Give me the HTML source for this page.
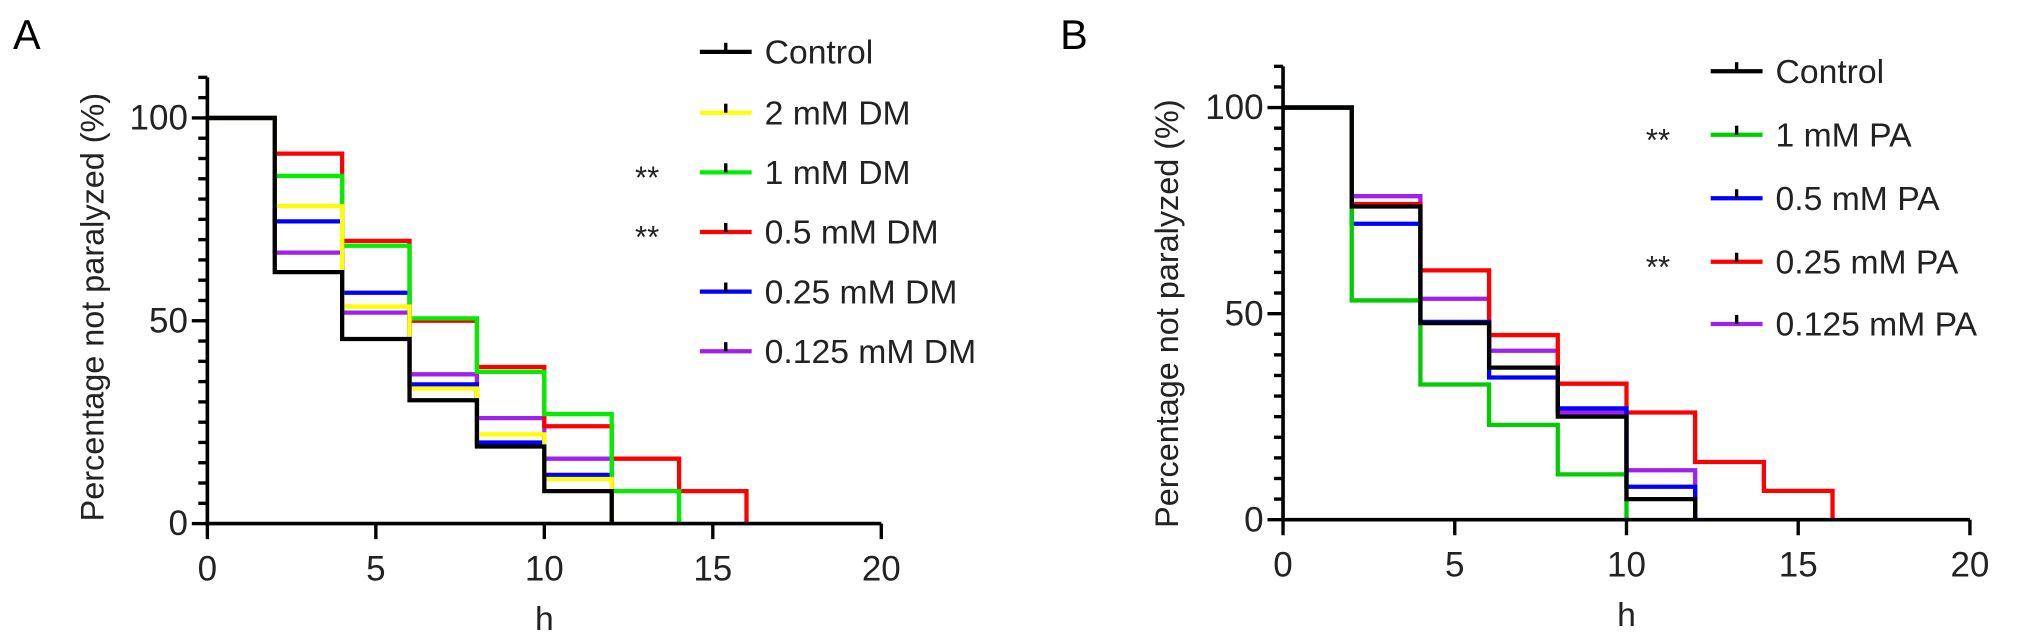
<!DOCTYPE html>
<html><head><meta charset="utf-8"><style>
html,body{margin:0;padding:0;background:#fff;}
svg{display:block;font-family:"Liberation Sans",Arial,sans-serif;}
</style></head><body>
<svg id="fig" width="2032" height="643" viewBox="0 0 2032 643" xmlns="http://www.w3.org/2000/svg">
<g transform="scale(1.296)">
<g id="panelA"></g>
<g id="panelB"></g>
</g>
</svg>
<script>
// Panel A data
const timesA = [0,2,4,6,8,10,12,14,16];
const namesA = ["Control","2 mM DM","1 mM DM","0.5 mM DM","0.25 mM DM","0.125 mM DM"];
const colorsA = ["#000000","#ffff00","#00ee00","#ff0000","#0000ff","#a020f0"];
const sigA = ["","","**","**","",""];
const controlA = [100,62,45.5,30.4,19,8,0];
const dm2A = [100,78.3,53.5,33.3,22,11,0];
const dm1A = [100,85.7,68.5,50.6,37.4,27,8,0];
const dm05A = [100,91.2,69.7,50,38.6,24,16,8,0];
const dm025A = [100,74.5,56.9,34.3,20,12,0];
const dm0125A = [100,66.8,52,36.8,26,16,0];
const seriesA = [controlA,dm2A,dm1A,dm05A,dm025A,dm0125A];
// Panel B data
const timesB = [0,2,4,6,8,10,12,14,16];
const namesB = ["Control","1 mM PA","0.5 mM PA","0.25 mM PA","0.125 mM PA"];
const colorsB = ["#000000","#00cc00","#0000ff","#ff0000","#a020f0"];
const sigB = ["","**","","**",""];
const controlB = [100,76,47.7,36.9,25,5,0];
const pa1B = [100,53.2,32.8,23,11,0];
const pa05B = [100,71.8,48,34.5,27,8,0];
const pa025B = [100,76.6,60.5,44.8,33,26,14,7,0];
const pa0125B = [100,78.5,53.6,41,26,12,0];
const seriesB = [controlB,pa1B,pa05B,pa025B,pa0125B];
const xTicks = [0,5,10,15,20];
const yTicks = [0,50,100];

const NS="http://www.w3.org/2000/svg";
function mk(tag, attrs, parent){const e=document.createElementNS(NS,tag);for(const k in attrs)e.setAttribute(k,attrs[k]);parent.appendChild(e);return e;}

function panel(g, cfg){
  const xs=v=>cfg.x0+(v/20)*(cfg.x1-cfg.x0);
  const ys=v=>cfg.y0-(v/100)*(cfg.y0-cfg.y100);
  const drawOrder=[];
  for(let i=cfg.series.length-1;i>=0;i--)drawOrder.push(i);
  drawOrder.forEach(i=>{
    const s=cfg.series[i];
    let d="M"+xs(cfg.times[0])+","+ys(s[0]);
    for(let k=1;k<s.length;k++){d+=" H"+xs(cfg.times[k])+" V"+ys(s[k]);}
    const p=mk("path",{d:d,fill:"none",stroke:cfg.colors[i],"stroke-width":3.3},g);
    
    
  });
  const ax=mk("path",{d:`M${cfg.x0},${ys(110)} V${cfg.y0} H${cfg.x1}`,fill:"none",stroke:"#000","stroke-width":2.8},g);
  
  
  for(let v=0;v<=110;v+=5){
    const major=v%50===0;
    const t=mk("line",{x1:cfg.x0-(major?12:7),x2:cfg.x0,y1:ys(v),y2:ys(v),stroke:"#000","stroke-width":2.6},g);
    
    
  }
  yTicks.forEach(v=>{
    const t=mk("text",{x:cfg.x0-15,y:ys(v)+9,"text-anchor":"end","font-size":27,fill:"#222"},g);
    t.textContent=v;
    
    
  });
  xTicks.forEach(v=>{
    const l=mk("line",{x1:xs(v),x2:xs(v),y1:cfg.y0,y2:cfg.y0+12,stroke:"#000","stroke-width":2.6},g);
    
    
    const t=mk("text",{x:xs(v),y:cfg.y0+44,"text-anchor":"middle","font-size":27,fill:"#222"},g);
    t.textContent=v;
    
    
  });
  const xt=mk("text",{x:(cfg.x0+cfg.x1)/2,y:cfg.y0+82,"text-anchor":"middle","font-size":26,fill:"#222"},g);
  xt.textContent="h";
  
  
  const yt=mk("text",{x:0,y:0,"text-anchor":"middle","font-size":25,fill:"#222",transform:`translate(${cfg.ytx},${cfg.yty}) rotate(-90)`},g);
  yt.textContent="Percentage not paralyzed (%)";
  
  
  const pl=mk("text",{x:cfg.lx,y:38,"font-size":32,fill:"#000"},g);
  pl.textContent=cfg.label;
  
  
  cfg.series.forEach((s,si)=>{
    const y=cfg.legY[si];
    const gl=mk("g",{},g);
    
    
    mk("line",{x1:cfg.legX,x2:cfg.legX+40,y1:y,y2:y,stroke:cfg.colors[si],"stroke-width":3.3},gl);
    mk("line",{x1:cfg.legX+20,x2:cfg.legX+20,y1:y-7,y2:y,stroke:"#000","stroke-width":2.6},gl);
    const t=mk("text",{x:cfg.legX+50,y:y+9,"font-size":26,fill:"#222"},gl);
    t.textContent=cfg.names[si];
    if(cfg.sig[si]){
      const s=mk("text",{x:cfg.legX-50,y:y+12,"font-size":24,fill:"#222"},gl);
      s.textContent=cfg.sig[si];
    }
  });
}
panel(document.getElementById("panelA"),{x0:160,x1:680,y0:404,y100:91,times:timesA,series:seriesA,colors:colorsA,names:namesA,sig:sigA,legX:540,legY:[40,87,133,179,225,271],ytx:80,yty:237,lx:10,label:"A"});
panel(document.getElementById("panelB"),{x0:990,x1:1520,y0:401,y100:83,times:timesB,series:seriesB,colors:colorsB,names:namesB,sig:sigB,legX:1320,legY:[55,104,153,202,250],ytx:909,yty:242,lx:818,label:"B"});
</script>
</body></html>
